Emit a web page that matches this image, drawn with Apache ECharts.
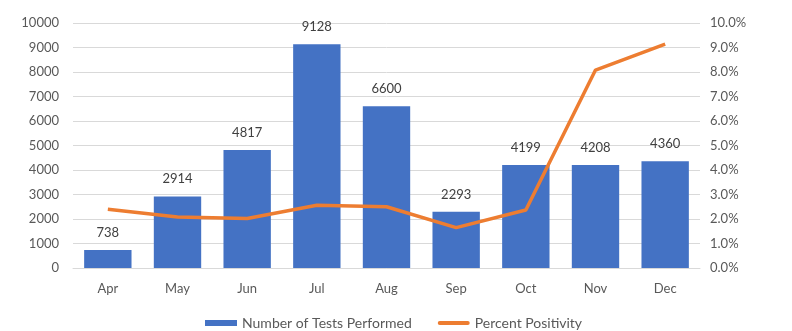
<!DOCTYPE html>
<html><head><meta charset="utf-8">
<script src="https://cdn.jsdelivr.net/npm/echarts@6/dist/echarts.min.js"></script>
<style>html,body{margin:0;padding:0;background:#fff}#c{width:792px;height:331px}</style>
</head><body><div id="c"></div>
<script>
const months = ['Apr','May','Jun','Jul','Aug','Sep','Oct','Nov','Dec'];
const tests = [738, 2914, 4817, 9128, 6600, 2293, 4199, 4208, 4360];
const positivity = [2.4, 2.08, 2.02, 2.56, 2.5, 1.65, 2.37, 8.08, 9.14];
const seriesNames = ['Number of Tests Performed', 'Percent Positivity'];
const font = 'Lato, "Open Sans", sans-serif';
const chart = echarts.init(document.getElementById('c'));
chart.setOption({
  animation: false,
  textStyle: {fontFamily: font},
  grid: {left: 73, right: 92, top: 23, bottom: 63},
  legend: {
    top: 311, left: 200, itemGap: 26, itemWidth: 32, itemHeight: 7,
    textStyle: {fontFamily: font, fontSize: 14, color: '#595959'},
    data: [
      {name: seriesNames[0], icon: 'path://M0,0h32v6h-32z'},
      {name: seriesNames[1], icon: 'path://M2,0h28a2,2 0 0 1 0,4h-28a2,2 0 0 1 0,-4z'}
    ]
  },
  xAxis: {
    type: 'category', data: months,
    axisLine: {lineStyle: {color: '#d9d9d9'}},
    axisTick: {show: false},
    axisLabel: {color: '#595959', fontSize: 13, margin: 14, fontFamily: font}
  },
  yAxis: [
    {type: 'value', min: 0, max: 10000, interval: 1000,
     axisLabel: {color: '#595959', fontSize: 13, margin: 14, fontFamily: font, formatter: v => String(v)},
     splitLine: {lineStyle: {color: '#d9d9d9'}}},
    {type: 'value', min: 0, max: 10, interval: 1,
     axisLabel: {color: '#595959', fontSize: 13, margin: 10, fontFamily: font,
       formatter: v => v.toFixed(1) + '%'},
     splitLine: {show: false}}
  ],
  series: [
    {name: seriesNames[0], type: 'bar', data: tests, barCategoryGap: '32%',
     itemStyle: {color: '#4472C4'},
     label: {show: true, position: 'top', distance: 11, color: '#404040', fontSize: 13, fontFamily: font}},
    {name: seriesNames[1], type: 'line', yAxisIndex: 1, data: positivity,
     symbol: 'none', lineStyle: {color: '#ED7D31', width: 3.5}, itemStyle: {color: '#ED7D31'}}
  ]
});
</script></body></html>
